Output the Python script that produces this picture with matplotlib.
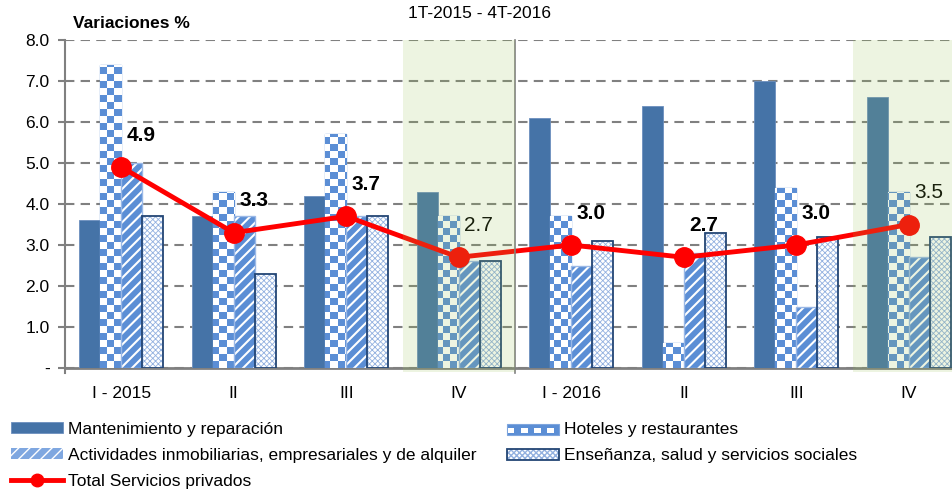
import numpy as np
import matplotlib.pyplot as plt
from matplotlib.colors import ListedColormap
from matplotlib.patches import Patch, Rectangle
from matplotlib.lines import Line2D
from matplotlib.legend_handler import HandlerBase

plt.rcParams['font.family'] = ['Liberation Sans', 'DejaVu Sans']

categories = ["I - 2015", "II", "III", "IV", "I - 2016", "II", "III", "IV"]
mantenimiento = [3.6, 3.7, 4.2, 4.3, 6.1, 6.4, 7.0, 6.6]
hoteles = [7.4, 4.3, 5.7, 3.7, 3.7, 0.6, 4.4, 4.3]
actividades = [5.0, 3.7, 3.7, 2.6, 2.5, 2.8, 1.5, 2.7]
ensenanza = [3.7, 2.3, 3.7, 2.6, 3.1, 3.3, 3.2, 3.2]
total = [4.9, 3.3, 3.7, 2.7, 3.0, 2.7, 3.0, 3.5]
ytick_labels = ["-", "1.0", "2.0", "3.0", "4.0", "5.0", "6.0", "7.0", "8.0"]
shaded = [3, 7]  # cuartos trimestres resaltados

C_MANT = "#4573A7"
C_BLUE = "#5B8ED5"
C_ENS_EDGE = "#234574"
C_ENS_HATCH = "#93B1E0"
GRAY = "#808080"

fig = plt.figure(figsize=(9.52, 4.91), dpi=100)
ax = fig.add_axes([65 / 952, 123 / 491, 887 / 952, 328 / 491])
XMIN, XMAX = -0.5, 7.5 - 13 / 112.5
ax.set_xlim(XMIN, XMAX)
ax.set_ylim(0, 8)

x = np.arange(len(categories))
w = 0.187

ax.bar(x - 1.5 * w, mantenimiento, w, color=C_MANT, edgecolor="#6C8FBE", lw=0.6, zorder=3)

# hoteles: checkered bars (image clipped to each bar)
checker = (np.add.outer(np.arange(47), np.arange(127)) % 2)
cmap = ListedColormap(["white", C_BLUE])
hb = ax.bar(x - 0.5 * w, hoteles, w, color="white", edgecolor="#7EA5DD", lw=1.0, zorder=3)
for b in hb:
    im = ax.imshow(checker, cmap=cmap, extent=(XMIN, XMAX, 0, 8), origin="lower",
                   aspect="auto", interpolation="nearest", zorder=3.1)
    im.set_clip_path(b)

# actividades: blue with white stripes
with plt.rc_context({"hatch.linewidth": 1.5}):
    ab = ax.bar(x + 0.5 * w, actividades, w, color=C_BLUE, edgecolor="white", hatch="///",
                lw=0, zorder=3)
for b in ab:
    if hasattr(b, "set_hatch_linewidth"):
        b.set_hatch_linewidth(1.5)
ax.bar(x + 0.5 * w, actividades, w, fill=False, edgecolor="#9AB8E6", lw=1.0, zorder=3.2)

# ensenanza: fine cross pattern
with plt.rc_context({"hatch.linewidth": 0.6}):
    eb = ax.bar(x + 1.5 * w, ensenanza, w, color="white", edgecolor=C_ENS_HATCH, hatch="xxxxxx",
                lw=0, zorder=3)
for b in eb:
    if hasattr(b, "set_hatch_linewidth"):
        b.set_hatch_linewidth(0.6)
ax.bar(x + 1.5 * w, ensenanza, w, fill=False, edgecolor=C_ENS_EDGE, lw=1.3, zorder=3.2)

# total line
ax.plot(x, total, color="#FF0000", lw=3.5, marker="o", markersize=14, zorder=5)
for xi, v in zip(x, total):
    ax.annotate(f"{v:.1f}", (xi, v), xytext=(4, 16), textcoords="offset points",
                ha="left", va="bottom", fontsize=15,
                fontweight="normal" if xi in shaded else "bold", zorder=6)

# shaded quarters and separator
for s in shaded:
    ax.axvspan(s - 0.5, s + 0.5, ymin=-0.013, ymax=1, color="#97C24F", alpha=0.17, lw=0,
               zorder=8, clip_on=False)
ax.axvline(3.5, ymin=-0.015, color=GRAY, lw=1.2, zorder=7, clip_on=False)

# axes styling
ax.set_yticks(range(9))
ax.set_yticklabels(ytick_labels)
ax.yaxis.grid(True, color=GRAY, lw=1.5, linestyle=(0, (4.5, 3)), zorder=0)
ax.set_axisbelow(True)
ax.set_xticks(x)
ax.set_xticklabels(categories)
ax.tick_params(axis="x", length=0, pad=13, labelsize=12.5)
ax.tick_params(axis="y", length=5, width=1.5, color=GRAY, labelsize=12.5, pad=6)
for sp in ("top", "right"):
    ax.spines[sp].set_visible(False)
ax.spines["left"].set_color(GRAY)
ax.spines["left"].set_linewidth(1.5)
ax.spines["left"].set_bounds(-0.12, 8)
ax.spines["bottom"].set_color(GRAY)
ax.spines["bottom"].set_linewidth(2)

fig.text(73 / 952, 1 - 23 / 491, "Variaciones %", fontsize=12.5, fontweight="bold",
         ha="left", va="center")
fig.text(480 / 952, 1 - 13 / 491, "1T-2015 - 4T-2016", fontsize=12.5, ha="center", va="center")


class CheckerHandler(HandlerBase):
    def create_artists(self, legend, orig_handle, xd, yd, width, height, fontsize, trans):
        arts = [Rectangle((xd, yd), width, height, facecolor=C_BLUE, edgecolor="#7EA5DD",
                          lw=0.8, transform=trans)]
        n = 8
        sw = width / n
        for i in range(0, n, 2):
            arts.append(Rectangle((xd + i * sw + sw * 0.15, yd + height * 0.15), sw,
                                  height * 0.45, facecolor="white", lw=0, transform=trans))
        return arts


class BorderHatchHandler(HandlerBase):
    def create_artists(self, legend, orig_handle, xd, yd, width, height, fontsize, trans):
        inner = Rectangle((xd, yd), width, height, facecolor="white", edgecolor=C_ENS_HATCH,
                          hatch="xxxxxx", lw=0, transform=trans)
        border = Rectangle((xd, yd), width, height, fill=False, edgecolor=C_ENS_EDGE,
                           lw=1.3, transform=trans)
        return [inner, border]


h_mant = Patch(facecolor=C_MANT, edgecolor="#6C8FBE", lw=0.6)
h_hot = Patch(facecolor=C_BLUE)
h_act = Patch(facecolor="#7FA7E0", edgecolor="white", hatch="///", lw=0)
h_ens = Patch(facecolor="white")
h_tot = Line2D([], [], color="#FF0000", lw=3.5, marker="o", markersize=9)

leg_kw = dict(frameon=False, fontsize=12.5, handlelength=3.0, handleheight=0.6,
              handletextpad=0.3, labelspacing=0.62, borderaxespad=0, borderpad=0,
              loc="upper left")
fig.legend([h_mant, h_act, h_tot],
           ["Mantenimiento y reparación",
            "Actividades inmobiliarias, empresariales y de alquiler",
            "Total Servicios privados"],
           bbox_to_anchor=(11 / 952, 1 - 422 / 491), **leg_kw)
fig.legend([h_hot, h_ens],
           ["Hoteles y restaurantes", "Enseñanza, salud y servicios sociales"],
           bbox_to_anchor=(507 / 952, 1 - 422 / 491),
           handler_map={h_hot: CheckerHandler(), h_ens: BorderHatchHandler()},
           **leg_kw)

fig.savefig("out.png", dpi=100)
